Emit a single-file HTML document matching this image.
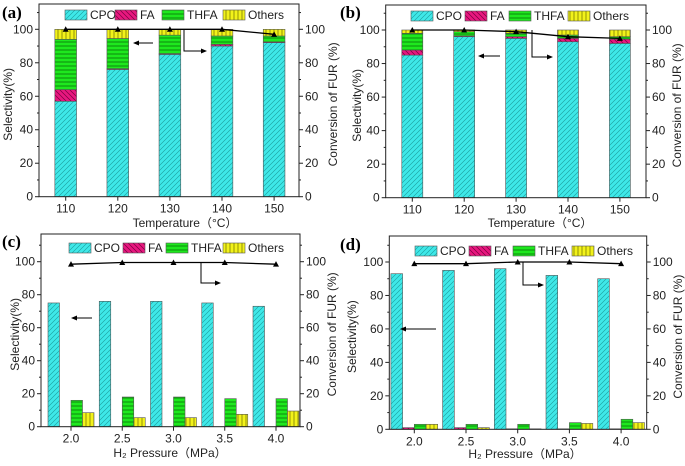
<!DOCTYPE html>
<html><head><meta charset="utf-8"><style>
html,body{margin:0;padding:0;background:#fff;}
svg{display:block;font-family:"Liberation Sans",sans-serif;}
</style></head><body>
<svg id="chart" width="685" height="466" viewBox="0 0 685 466" xmlns="http://www.w3.org/2000/svg">
<defs>
<pattern id="pCPO" patternUnits="userSpaceOnUse" width="5" height="5"><rect width="5" height="5" fill="#3ee8e8"/><path d="M-1,6 L6,-1 M-1,1 L1,-1 M4,6 L6,4" stroke="#1a9a9a" stroke-width="0.6"/></pattern>
<pattern id="pFA" patternUnits="userSpaceOnUse" width="5" height="5"><rect width="5" height="5" fill="#e8177f"/><path d="M-1,-1 L6,6 M4,-1 L6,1 M-1,4 L1,6" stroke="#7a0040" stroke-width="0.7"/></pattern>
<pattern id="pTHFA" patternUnits="userSpaceOnUse" width="4" height="4"><rect width="4" height="4" fill="#1ee81e"/><path d="M0,2 L4,2" stroke="#066006" stroke-width="0.7"/></pattern>
<pattern id="pOth" patternUnits="userSpaceOnUse" width="4" height="4"><rect width="4" height="4" fill="#f2f21a"/><path d="M2,0 L2,4" stroke="#6b6b00" stroke-width="0.7"/></pattern>
<marker id="ah" markerWidth="6" markerHeight="6" refX="5" refY="3" orient="auto"><path d="M0,0.5 L6,3 L0,5.5 Z" fill="#000"/></marker>
</defs>
</svg>
<script>
// ---- data ----
const tempCats = ["110","120","130","140","150"];
const presCats = ["2.0","2.5","3.0","3.5","4.0"];
const seriesNames = ["CPO","FA","THFA","Others"];
const yTicks = [0,20,40,60,80,100];
const aCPO = [57,76,85,90,92];
const aFA = [7,0.5,0.5,1,0.5];
const aTHFA = [30,18,11,5,3.5];
const aOth = [6,5.5,3.5,4,4];
const aConv = [100,100,100,100,97];
const bCPO = [85,96,95,93,92];
const bFA = [3,0.5,1,2,2.5];
const bTHFA = [10,2.5,2,2,1.5];
const bOth = [2,1,2,3,4];
const bConv = [100,100,99,96,95];
const cCPO = [75,76,76,75,73];
const cFA = [0,0,0,0,0];
const cTHFA = [16,18,18,17,17];
const cOth = [8.5,5.5,5.5,7.5,9.5];
const cConv = [98.5,99.5,99.5,99.5,98.5];
const dCPO = [93,95,96,92,90];
const dFA = [1,1,0.3,0.3,0.3];
const dTHFA = [3,3,3,4,6];
const dOth = [3,1,0.3,3.5,4];
const dConv = [99,99,100,100,99];

const svg = document.getElementById('chart');
const NS = 'http://www.w3.org/2000/svg';
const fills = ['url(#pCPO)','url(#pFA)','url(#pTHFA)','url(#pOth)'];
function mk(tag, attrs, parent){
  const e = document.createElementNS(NS, tag);
  for (const k in attrs) e.setAttribute(k, attrs[k]);
  (parent||svg).appendChild(e);
  return e;
}
function txt(s, attrs, parent){ const t = mk('text', attrs, parent); t.textContent = s; return t; }

const panels = [
 {id:'a', L:39, R:299, top:4, y0:196.7, y100:29.3, x0:65.7, step:52.1, mode:'stack', bw:21.7,
  cats:tempCats, data:[aCPO,aFA,aTHFA,aOth], conv:aConv, xt:'Temperature（°C）', xtx:185, xty:227,
  lab:[2,18], ly:15, leg:[65,115,162,223], l2:[153,133,43], r2:[184,29,51,207], lt:8, rt:333},
 {id:'b', L:385.7, R:646, top:5, y0:197.7, y100:30, x0:412.3, step:51.9, mode:'stack', bw:21,
  cats:tempCats, data:[bCPO,bFA,bTHFA,bOth], conv:bConv, xt:'Temperature（°C）', xtx:540, xty:227,
  lab:[340,18], ly:16, leg:[411,465,509,568], l2:[500,478,56], r2:[532,30,57,553], lt:357, rt:677},
 {id:'c', L:41, R:300, top:234, y0:426.7, y100:261.7, x0:71, step:51.25, mode:'group', bw:11.5,
  cats:presCats, data:[cCPO,cFA,cTHFA,cOth], conv:cConv, xt:'H₂ Pressure（MPa）', xtx:170, xty:457,
  lab:[2,247], ly:248, leg:[69,123,166,223], l2:[92,71,318], r2:[201,262,283,221], lt:15, rt:332},
 {id:'d', L:389.3, R:646.7, top:236, y0:429.3, y100:262, x0:414.3, step:51.7, mode:'group', bw:11.7,
  cats:presCats, data:[dCPO,dFA,dTHFA,dOth], conv:dConv, xt:'H₂ Pressure（MPa）', xtx:525, xty:458,
  lab:[340,250], ly:251, leg:[415,469,513,572], l2:[436,400,329], r2:[523,262,285,544], lt:352, rt:678}
];

panels.forEach(p=>{
  const g = mk('g', {});
  
  
  const ys = v => p.y0 - (p.y0 - p.y100) * v / 100;
  const xs = i => p.x0 + i * p.step;
  p.cats.forEach((c,i)=>{
    if (p.mode==='stack'){
      let acc = 0;
      p.data.forEach((arr,s)=>{
        const v = arr[i]; if (v<=0) return;
        const r = mk('rect', {x:xs(i)-p.bw/2, y:ys(acc+v), width:p.bw, height:ys(acc)-ys(acc+v), fill:fills[s], stroke:'#555', 'stroke-width':0.6}, g);
        
        
        acc += v;
      });
    } else {
      p.data.forEach((arr,s)=>{
        const v = arr[i]; if (v<=0) return;
        const bx = xs(i) - 2*p.bw + s*p.bw;
        const r = mk('rect', {x:bx, y:ys(v), width:p.bw, height:ys(0)-ys(v), fill:fills[s], stroke:'#555', 'stroke-width':0.6}, g);
        
        
      });
    }
  });
  const pts = p.conv.map((v,i)=>xs(i)+','+ys(v)).join(' ');
  const pl = mk('polyline', {points:pts, fill:'none', stroke:'#000', 'stroke-width':1.3}, g);
  
  
  p.conv.forEach((v,i)=>{
    const m = mk('path', {d:`M${xs(i)-3},${ys(v)+2.5} L${xs(i)+3},${ys(v)+2.5} L${xs(i)},${ys(v)-3} Z`, fill:'#000'}, g);
    
    
  });
  const fr = mk('rect', {x:p.L, y:p.top, width:p.R-p.L, height:p.y0-p.top, fill:'none', stroke:'#222', 'stroke-width':1}, g);
  
  
  yTicks.forEach(t=>{
    const y = ys(t);
    mk('line', {x1:p.L-4, x2:p.L, y1:y, y2:y, stroke:'#222'}, g);
    mk('line', {x1:p.R, x2:p.R+4, y1:y, y2:y, stroke:'#222'}, g);
    if (t<100){ const ym = ys(t+10);
      mk('line', {x1:p.L-2, x2:p.L, y1:ym, y2:ym, stroke:'#222'}, g);
      mk('line', {x1:p.R, x2:p.R+2, y1:ym, y2:ym, stroke:'#222'}, g);}
    const tl = txt(String(t), {x:p.L-6, y:y+4, 'font-size':12, 'text-anchor':'end', fill:'#222'}, g);
    
    
    const tr = txt(String(t), {x:p.R+6, y:y+4, 'font-size':12, 'text-anchor':'start', fill:'#222'}, g);
    
    
  });
  const ym110 = ys(110);
  mk('line', {x1:p.L-2, x2:p.L, y1:ym110, y2:ym110, stroke:'#222'}, g);
  mk('line', {x1:p.R, x2:p.R+2, y1:ym110, y2:ym110, stroke:'#222'}, g);
  p.cats.forEach((c,i)=>{
    mk('line', {x1:xs(i), x2:xs(i), y1:p.y0, y2:p.y0+4, stroke:'#222'}, g);
    const xl = txt(c, {x:xs(i), y:p.y0+16, 'font-size':12, 'text-anchor':'middle', fill:'#222'}, g);
    
    
  });
  const xt = txt(p.xt, {x:p.xtx, y:p.xty, 'font-size':12, 'text-anchor':'middle', fill:'#222', 'font-family':'"Liberation Sans","Noto Sans CJK SC",sans-serif'}, g);
  
  
  const cy = (p.y0+p.top)/2 + 4;
  const lt = txt('Selectivity(%)', {x:0, y:0, 'font-size':12, 'text-anchor':'middle', fill:'#222', transform:`translate(${p.lt+4},${cy}) rotate(-90)`}, g);
  
  
  const rt = txt('Conversion of FUR (%)', {x:0, y:0, 'font-size':12, 'text-anchor':'middle', fill:'#222', transform:`translate(${p.rt+4},${cy}) rotate(-90)`}, g);
  
  
  const pl2 = txt('('+p.id+')', {x:p.lab[0], y:p.lab[1], 'font-size':17, 'font-weight':'bold', 'font-family':'"Liberation Serif",serif', fill:'#000'}, g);
  
  
  seriesNames.forEach((n,s)=>{
    const lg = mk('g', {}, g);
    
    
    mk('rect', {x:p.leg[s], y:p.ly-5, width:22, height:10, fill:fills[s], stroke:'#555', 'stroke-width':0.6}, lg);
    txt(n, {x:p.leg[s]+25, y:p.ly+4, 'font-size':12, fill:'#222'}, lg);
  });
  const la = mk('line', {x1:p.l2[0], x2:p.l2[1]+1, y1:p.l2[2], y2:p.l2[2], stroke:'#000', 'stroke-width':1, 'marker-end':'url(#ah)'}, g);
  
  
  const ra = mk('polyline', {points:`${p.r2[0]},${p.r2[1]} ${p.r2[0]},${p.r2[2]} ${p.r2[3]-1},${p.r2[2]}`, fill:'none', stroke:'#000', 'stroke-width':1, 'marker-end':'url(#ah)'}, g);
  
  
});
</script>
</body></html>
